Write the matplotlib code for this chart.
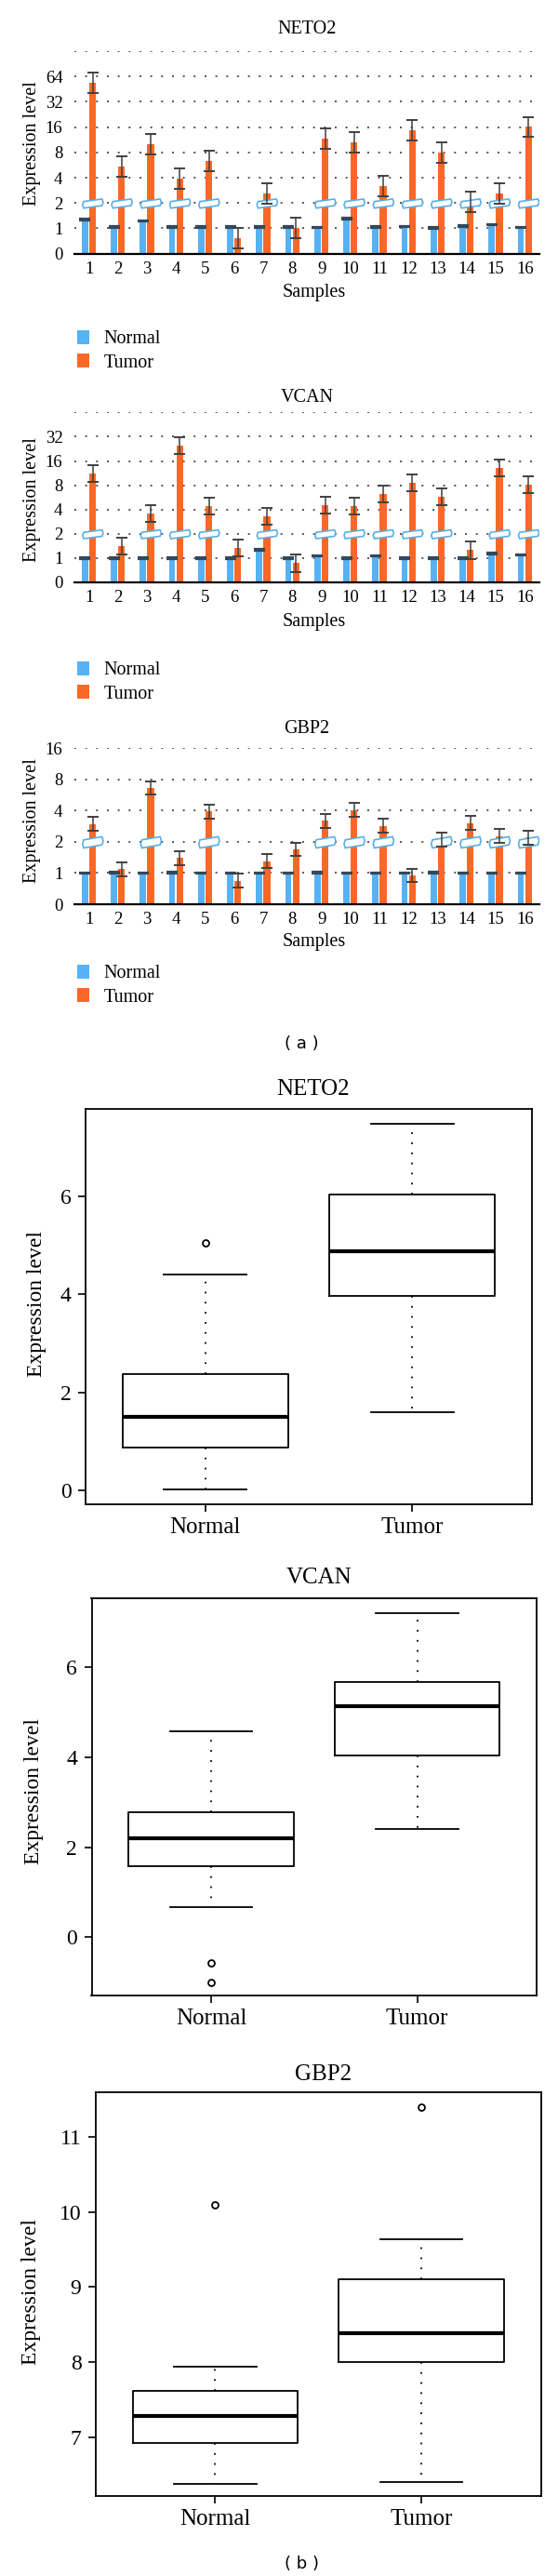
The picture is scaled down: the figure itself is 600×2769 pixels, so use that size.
import numpy as np
import matplotlib
matplotlib.use("Agg")
import matplotlib.pyplot as plt
from matplotlib.patches import Patch, Polygon

# ---------------- data ----------------
samples = list(range(1, 17))

neto2_normal = [1.27, 1.04, 1.23, 1.04, 1.04, 1.04, 1.04, 1.04,
                1.03, 1.30, 1.04, 1.05, 1.02, 1.06, 1.11, 1.03]
neto2_tumor = [53.4, 5.39, 10.0, 3.94, 6.28, 0.62, 2.62, 1.01,
               11.6, 10.6, 3.16, 14.7, 8.0, 2.05, 2.58, 16.1]
vcan_normal = [1.0, 1.0, 1.0, 1.0, 1.0, 1.0, 1.27, 1.0,
               1.07, 1.0, 1.07, 1.0, 1.0, 1.0, 1.14, 1.09]
vcan_tumor = [11.2, 1.42, 3.6, 24.6, 4.41, 1.34, 3.27, 0.79,
              4.53, 4.38, 6.23, 8.64, 5.8, 1.25, 13.1, 8.2]
gbp2_normal = [1.0, 1.01, 1.0, 1.01, 1.0, 1.0, 1.0, 1.0,
               1.01, 1.0, 1.0, 1.0, 1.01, 1.0, 1.0, 1.0]
gbp2_tumor = [2.96, 1.09, 6.6, 1.39, 3.9, 0.75, 1.30, 1.69,
              3.19, 4.03, 2.84, 0.92, 2.1, 3.04, 2.26, 2.19]
# error bar half-lengths, in axis steps (one step = one doubling)
neto2_err = 0.40
vcan_err = 0.35
gbp2_err = 0.22

neto2_ticks = [0, 1, 2, 4, 8, 16, 32, 64, 128]
neto2_ticklabels = ["0", "1", "2", "4", "8", "16", "32", "64", ""]
vcan_ticks = [0, 1, 2, 4, 8, 16, 32, 64]
vcan_ticklabels = ["0", "1", "2", "4", "8", "16", "32", ""]
gbp2_ticks = [0, 1, 2, 4, 8, 16]
gbp2_ticklabels = ["0", "1", "2", "4", "8", "16"]

groups = ["Normal", "Tumor"]
neto2_whislo = [0.02, 1.60]
neto2_q1 = [0.87, 3.96]
neto2_med = [1.50, 4.89]
neto2_q3 = [2.38, 6.04]
neto2_whishi = [4.40, 7.49]
neto2_fliers = [[5.05], []]

vcan_whislo = [0.67, 2.41]
vcan_q1 = [1.57, 4.05]
vcan_med = [2.20, 5.13]
vcan_q3 = [2.78, 5.67]
vcan_whishi = [4.58, 7.21]
vcan_fliers = [[-0.57, -1.0], []]

gbp2_whislo = [6.38, 6.41]
gbp2_q1 = [6.92, 8.00]
gbp2_med = [7.28, 8.39]
gbp2_q3 = [7.62, 9.10]
gbp2_whishi = [7.94, 9.64]
gbp2_fliers = [[10.09], [11.39]]

# ---------------- style ----------------
W, H = 600, 2769
fig = plt.figure(figsize=(W / 100, H / 100), dpi=100)
SERIF = ["Liberation Serif", "DejaVu Serif"]
plt.rcParams["font.family"] = SERIF
BLUE = "#57B2F4"
ORANGE = "#FA6828"
ERR = "#404040"
BREAK_EDGE = "#5AAEE6"


def fwd(v):
    v = np.asarray(v, dtype=float)
    return np.where(v >= 1, np.log2(np.maximum(v, 1.0)) + 1.0, v)


def inv(p):
    p = np.asarray(p, dtype=float)
    return np.where(p >= 1, 2.0 ** (np.maximum(p, 1.0) - 1.0), p)


def px_axes(left, top, right, bottom):
    return fig.add_axes([left / W, 1 - bottom / H, (right - left) / W, (bottom - top) / H])


def ftext(x, y, s, **kw):
    fig.text(x / W, 1 - y / H, s, ha="center", va="center", **kw)


def bar_chart(rect, normal, tumor, terr, nerr, ticks, ticklabels, title, title_y,
              ylabel_y, samples_y, legend_top):
    ax = px_axes(*rect)
    ax.set_yscale("function", functions=(fwd, inv))
    x = np.array(samples, dtype=float)
    normal = np.array(normal)
    tumor = np.array(tumor)
    ax.set_xlim(0.5, 16.5)
    ax.set_ylim(0, ticks[-1])
    ax.set_yticks(ticks)
    ax.set_yticklabels(ticklabels)
    ax.set_xticks(x)
    ax.set_xticklabels([str(s) for s in samples])
    ax.tick_params(axis="both", length=0, labelsize=13.5)
    ax.tick_params(axis="y", pad=9)
    ax.tick_params(axis="x", pad=6)
    for s in ["left", "right", "top"]:
        ax.spines[s].set_visible(False)
    ax.spines["bottom"].set_linewidth(1.6)
    ax.spines["bottom"].set_zorder(6)
    ax.yaxis.grid(True, linestyle=(0, (1, 5)), color="#555555", linewidth=1.4)
    ax.set_axisbelow(True)

    xn = x - 0.14
    xt = x + 0.125
    ax.bar(xn, normal, width=0.21, color=BLUE, zorder=2)
    ax.bar(xt, tumor, width=0.23, color=ORANGE, zorder=2)

    pn = fwd(normal)
    ax.errorbar(xn, normal, yerr=[normal - inv(pn - nerr), inv(pn + nerr) - normal],
                fmt="none", ecolor="#34485a", elinewidth=1.5, capsize=4.3, capthick=1.6, zorder=3)
    pt = fwd(tumor)
    ax.errorbar(xt, tumor, yerr=[tumor - inv(pt - terr), inv(pt + terr) - tumor],
                fmt="none", ecolor=ERR, elinewidth=1.1, capsize=4.2, capthick=1.4, zorder=5)

    # axis-break symbols on the tumour bars that cross level 2
    for xi, tv in zip(x, tumor):
        if tv > 2:
            x0, x1 = xi - 0.18, xi + 0.45
            p0, t, h = 1.80, 0.10, 0.26
            pts = [(x0, p0), (x1, p0 + t), (x1 + 0.04, p0 + t + h * 0.5), (x1, p0 + t + h),
                   (x0, p0 + h), (x0 - 0.04, p0 + h * 0.5)]
            verts = [(a, float(inv(b))) for a, b in pts]
            ax.add_patch(Polygon(verts, closed=True, facecolor="white", edgecolor=BREAK_EDGE,
                                 linewidth=1.2, zorder=4))

    ftext(330, title_y, title, fontsize=14.5)
    ftext(34, ylabel_y, "Expression level", fontsize=14.5, rotation=90)
    ftext(338, samples_y, "Samples", fontsize=14.5)
    handles = [Patch(facecolor=BLUE), Patch(facecolor=ORANGE)]
    ax.legend(handles, ["Normal", "Tumor"], loc="upper left",
              bbox_to_anchor=(83 / W, 1 - legend_top / H), bbox_transform=fig.transFigure,
              frameon=False, fontsize=14.5, handlelength=0.65, handleheight=0.75,
              handletextpad=0.75, labelspacing=0.3, borderpad=0, borderaxespad=0)
    return ax


bar_chart((80, 55, 580, 272.7), neto2_normal, neto2_tumor, neto2_err, 0.03,
          neto2_ticks, neto2_ticklabels, "NETO2", 32, 154, 314, 355)
bar_chart((80, 443.3, 580, 626), vcan_normal, vcan_tumor, vcan_err, 0.03,
          vcan_ticks, vcan_ticklabels, "VCAN", 427, 537, 668, 711)
bar_chart((80, 804, 580, 972), gbp2_normal, gbp2_tumor, gbp2_err, 0.02,
          gbp2_ticks, gbp2_ticklabels, "GBP2", 784, 882, 1013, 1037)

ftext(324, 1122, "( a )", fontsize=13, family=["DejaVu Sans"])


def box_chart(rect, whislo, q1, med, q3, whishi, fliers, ylim, yticks, title, title_y,
              ylabel_x, ylabel_y):
    ax = px_axes(*rect)
    stats = []
    for i, g in enumerate(groups):
        stats.append(dict(label=g, whislo=whislo[i], q1=q1[i], med=med[i], q3=q3[i],
                          whishi=whishi[i], fliers=fliers[i]))
    ax.bxp(stats, positions=[1, 2], widths=0.8, capwidths=0.4, showfliers=True,
           boxprops=dict(linewidth=1.3, color="black"),
           medianprops=dict(linewidth=3.0, color="black", solid_capstyle="butt"),
           whiskerprops=dict(linewidth=1.3, linestyle=(0, (1, 5)), color="black"),
           capprops=dict(linewidth=1.3, color="black"),
           flierprops=dict(marker="o", markerfacecolor="none", markeredgecolor="black",
                           markersize=5, markeredgewidth=1.3))
    ax.set_xlim(0.42, 2.58)
    ax.set_ylim(*ylim)
    ax.set_yticks(yticks)
    ax.set_yticklabels([str(t) for t in yticks])
    ax.set_xticks([1, 2])
    ax.set_xticklabels(groups)
    for s in ax.spines.values():
        s.set_linewidth(1.3)
    ax.tick_params(axis="both", direction="out", length=6, width=1.2, labelsize=17)
    ax.tick_params(axis="y", pad=5)
    ax.tick_params(axis="x", pad=4, labelsize=18)
    ftext((rect[0] + rect[2]) / 2 + 5, title_y, title, fontsize=18)
    ftext(ylabel_x, ylabel_y, "Expression level", fontsize=17, rotation=90)
    return ax


box_chart((92, 1191.5, 572, 1617), neto2_whislo, neto2_q1, neto2_med, neto2_q3, neto2_whishi,
          neto2_fliers, (-0.29, 7.80), [0, 2, 4, 6], "NETO2", 1171, 40, 1402)
box_chart((98.5, 1718, 577, 2145), vcan_whislo, vcan_q1, vcan_med, vcan_q3, vcan_whishi,
          vcan_fliers, (-1.30, 7.54), [0, 2, 4, 6], "VCAN", 1696, 37, 1926)
box_chart((102.7, 2249, 581.5, 2683), gbp2_whislo, gbp2_q1, gbp2_med, gbp2_q3, gbp2_whishi,
          gbp2_fliers, (6.22, 11.59), [7, 8, 9, 10, 11], "GBP2", 2230, 34, 2463)

ftext(324, 2756, "( b )", fontsize=13, family=["DejaVu Sans"])

fig.savefig("out.png", dpi=100, facecolor="white")
